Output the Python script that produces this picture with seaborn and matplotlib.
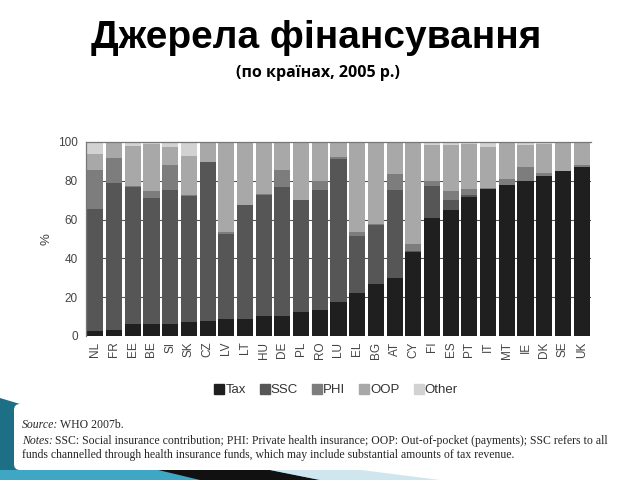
import matplotlib
matplotlib.use("Agg")
import matplotlib.pyplot as plt
import matplotlib.patches as mpatches
from matplotlib.lines import Line2D
import numpy as np
import pandas as pd
import seaborn as sns

countries = ["NL", "FR", "EE", "BE", "SI", "SK", "CZ", "LV", "LT", "HU", "DE", "PL", "RO", "LU",
             "EL", "BG", "AT", "CY", "FI", "ES", "PT", "IT", "MT", "IE", "DK", "SE", "UK"]
tax = [2.8, 3.3, 6.4, 6.4, 6.4, 7.3, 7.8, 9.0, 9.0, 10.2, 10.2, 12.4, 13.3, 17.6,
       22.3, 26.6, 29.7, 43.5, 60.8, 65.1, 71.5, 75.8, 78.0, 80.1, 82.4, 85.0, 87.2]
ssc = [62.8, 75.7, 70.6, 64.6, 68.9, 64.9, 81.7, 43.5, 58.5, 62.7, 66.7, 57.6, 62.2, 73.4,
       29.0, 30.7, 45.8, 0.5, 16.4, 5.2, 1.4, 0.0, 0.0, 0.0, 0.0, 0.0, 0.0]
phi = [19.9, 13.0, 0.3, 3.6, 12.7, 0.5, 0.2, 0.9, 0.2, 0.3, 8.9, 0.3, 4.3, 1.4,
       2.1, 0.3, 8.1, 3.5, 2.6, 4.3, 2.9, 0.5, 2.7, 7.1, 1.4, 0.2, 1.2]
oop = [8.5, 7.5, 20.5, 24.2, 9.6, 20.0, 10.1, 46.3, 32.0, 26.5, 13.9, 29.4, 19.9, 7.3,
       46.3, 42.1, 16.1, 52.2, 18.5, 23.7, 23.0, 21.0, 19.0, 11.1, 15.0, 14.5, 11.3]
other = [6.0, 0.5, 2.2, 1.2, 2.4, 7.3, 0.2, 0.3, 0.3, 0.3, 0.3, 0.3, 0.3, 0.3,
         0.3, 0.3, 0.3, 0.3, 1.7, 1.7, 1.2, 2.7, 0.3, 1.7, 1.2, 0.3, 0.3]
series_names = ["Tax", "SSC", "PHI", "OOP", "Other"]
series_colors = ["#1f1f1f", "#565656", "#7d7d7d", "#a8a8a8", "#d2d2d2"]
y_ticks = [0, 20, 40, 60, 80, 100]

title = "Джерела фінансування"
subtitle = "(по країнах, 2005 р.)"

sns.set_theme(style="white")
plt.rcParams["font.family"] = ["Liberation Sans", "DejaVu Sans"]

fig = plt.figure(figsize=(6.4, 4.8), dpi=100)
fig.patch.set_facecolor("white")

# decorative background shapes (bottom-left)
deco = fig.add_axes([0, 0, 1, 1], zorder=-5)
deco.set_xlim(0, 640); deco.set_ylim(480, 0); deco.axis("off")
deco.add_patch(mpatches.Polygon([[0, 398], [20, 404], [40, 470], [0, 480]], closed=True,
                                color="#1d6f86", lw=0))
deco.add_patch(mpatches.Polygon([[0, 470], [330, 470], [360, 480], [0, 480]], closed=True,
                                color="#3fa6c4", lw=0))
deco.add_patch(mpatches.Polygon([[150, 468], [250, 466], [320, 480], [200, 480]], closed=True,
                                color="#111111", lw=0))
deco.add_patch(mpatches.Polygon([[250, 466], [330, 466], [440, 480], [320, 480]], closed=True,
                                color="#cfe6ee", lw=0))
deco.add_patch(mpatches.FancyBboxPatch((14, 404), 620, 66, boxstyle="round,pad=0,rounding_size=6",
                                       color="white", lw=0))

ax = fig.add_axes([86 / 640, 1 - 336 / 480, (591 - 86) / 640, (336 - 142) / 480])

df = pd.DataFrame({"country": countries, "Tax": tax, "SSC": ssc, "PHI": phi,
                   "OOP": oop, "Other": other})
cum = df[series_names].cumsum(axis=1)
for name, col in reversed(list(zip(series_names, series_colors))):
    sns.barplot(x=df["country"], y=cum[name], color=col, saturation=1, width=0.86,
                errorbar=None, ax=ax, zorder=2, linewidth=0)

ax.set_ylim(0, 100)
ax.set_xlim(-0.5, len(countries) - 0.5)
ax.set_yticks(y_ticks)
ax.set_yticklabels([str(v) for v in y_ticks], fontsize=8.5, color="#444444")
ax.tick_params(axis="x", labelrotation=90, labelsize=8.5, colors="#444444", length=0, pad=4)
ax.tick_params(axis="y", length=0, pad=6)
ax.set_xlabel("")
ax.set_ylabel("%", fontsize=9.5, color="#444444", labelpad=4)
for v in y_ticks[1:-1]:
    ax.axhline(v, color="#555555", lw=0.8, zorder=1)
for s in ["right", "bottom"]:
    ax.spines[s].set_visible(False)
for s in ["left", "top"]:
    ax.spines[s].set_color("#777777")
    ax.spines[s].set_linewidth(0.9)
ax.set_facecolor("white")

handles = [Line2D([0], [0], marker="s", ls="", markersize=7, markerfacecolor=c,
                  markeredgecolor=c) for c in series_colors]
fig.legend(handles, series_names, loc="center", bbox_to_anchor=(336 / 640, 1 - 390 / 480),
           ncol=5, frameon=False, fontsize=9.5, handletextpad=0.05, columnspacing=1.05,
           handlelength=0.8, labelcolor="#333333")

fig.text(316 / 640, 1 - 38 / 480, title, ha="center", va="center", fontsize=28,
         fontweight="bold", color="black")
fig.text(318 / 640, 1 - 73 / 480, subtitle, ha="center", va="center", fontsize=11.5,
         fontweight="bold", family=["Open Sans", "DejaVu Sans"], color="black")

serif = ["Liberation Serif", "DejaVu Serif"]
fs = 8.5
fig.text(22 / 640, 1 - 425 / 480, "Source:", fontsize=fs, style="italic", family=serif, va="center")
fig.text(60 / 640, 1 - 425 / 480, "WHO 2007b.", fontsize=fs, family=serif, va="center")
fig.text(22 / 640, 1 - 441 / 480, "Notes:", fontsize=fs, style="italic", family=serif, va="center")
fig.text(55 / 640, 1 - 441 / 480,
         "SSC: Social insurance contribution; PHI: Private health insurance; OOP: Out-of-pocket "
         "(payments); SSC refers to all",
         fontsize=fs, family=serif, va="center")
fig.text(22 / 640, 1 - 455 / 480,
         "funds channelled through health insurance funds, which may include substantial amounts "
         "of tax revenue.",
         fontsize=fs, family=serif, va="center")

fig.savefig("out.png", dpi=100)
